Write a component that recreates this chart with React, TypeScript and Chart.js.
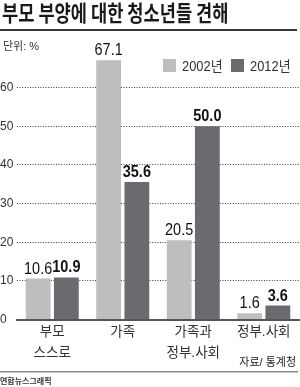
import React, { useEffect, useRef } from 'react';
import { Chart, registerables } from 'chart.js';

Chart.register(...registerables);

const titleText = '부모 부양에 대한 청소년들 견해';
const unitText = '단위: %';
const categories: string[][] = [['부모', '스스로'], ['가족'], ['가족과', '정부.사회'], ['정부.사회']];
const seriesLabels = ['2002년', '2012년'];
const values2002 = [10.6, 67.1, 20.5, 1.6];
const values2012 = [10.9, 35.6, 50.0, 3.6];
const yMin = 0;
const yMax = 70;
const yStep = 10;
const sourceText = '자료/ 통계청';
const creditText = '연합뉴스그래픽';

const seriesColors = ['#bdbec0', '#6b6a6f'];
const FONT = "'Liberation Sans', 'Noto Sans CJK KR', sans-serif";
const KFONT = "'Noto Sans CJK KR', sans-serif";

function drawText(
  ctx: CanvasRenderingContext2D,
  text: string,
  x: number,
  y: number,
  font: string,
  color: string,
  align: CanvasTextAlign,
  sx: number
) {
  ctx.save();
  ctx.font = font;
  ctx.fillStyle = color;
  ctx.textAlign = align;
  ctx.textBaseline = 'alphabetic';
  ctx.translate(x, y);
  ctx.scale(sx, 1);
  ctx.fillText(text, 0, 0);
  ctx.restore();
}

const overlayPlugin = {
  id: 'overlay',
  afterDraw(chart: any) {
    const ctx: CanvasRenderingContext2D = chart.ctx;
    // title
    drawText(ctx, titleText, 2, 21, 'bold 22px ' + KFONT, '#1a1a1a', 'left', 0.8);
    ctx.fillStyle = '#3a3a3a';
    ctx.fillRect(0, 29, 297, 2);
    drawText(ctx, unitText, 3, 49.5, '11px ' + FONT, '#333', 'left', 1);

    // legend
    const legendX = [163, 231];
    chart.data.datasets.forEach((ds: any, i: number) => {
      ctx.fillStyle = ds.backgroundColor;
      ctx.fillRect(legendX[i], 59, 13, 13);
      drawText(ctx, ds.label, legendX[i] + 19, 71, '14px ' + FONT, '#333', 'left', 0.92);
    });

    // value labels
    chart.data.datasets.forEach((ds: any, di: number) => {
      const meta = chart.getDatasetMeta(di);
      meta.data.forEach((bar: any, i: number) => {
        const v = ds.data[i] as number;
        drawText(
          ctx,
          v.toFixed(1),
          bar.x,
          bar.y - 5,
          (di === 1 ? 'bold ' : '') + '17px ' + FONT,
          '#111',
          'center',
          0.85
        );
      });
    });

    // source
    drawText(ctx, sourceText, 296, 366, '11px ' + FONT, '#222', 'right', 1);
    ctx.fillStyle = '#8a8a8a';
    ctx.fillRect(0, 371, 298, 1.5);
    drawText(ctx, creditText, 0, 384, 'bold 8px ' + FONT, '#333', 'left', 1);
  },
};

export default function App() {
  const canvasRef = useRef<HTMLCanvasElement | null>(null);

  useEffect(() => {
    document.body.style.margin = '0';
    const canvas = canvasRef.current;
    if (!canvas) return;
    const chart = new Chart(canvas, {
      type: 'bar',
      data: {
        labels: categories,
        datasets: [
          {
            label: seriesLabels[0],
            data: values2002,
            backgroundColor: seriesColors[0],
            barPercentage: 0.88,
            categoryPercentage: 0.8,
          },
          {
            label: seriesLabels[1],
            data: values2012,
            backgroundColor: seriesColors[1],
            barPercentage: 0.88,
            categoryPercentage: 0.8,
          },
        ],
      },
      options: {
        animation: false,
        responsive: false,
        devicePixelRatio: 1,
        layout: { padding: { top: 49, right: 1, bottom: 0, left: 0 } },
        plugins: {
          legend: { display: false },
          tooltip: { enabled: false },
          title: { display: false },
        },
        scales: {
          x: {
            grid: { display: false, drawTicks: false },
            border: { display: true, color: '#555', width: 2 },
            ticks: {
              color: '#333',
              font: { family: FONT, size: 13.5, lineHeight: 1.5 },
              padding: 3,
              maxRotation: 0,
              autoSkip: false,
            },
            afterFit(scale: any) {
              scale.height = 67.5;
            },
          },
          y: {
            min: yMin,
            max: yMax,
            ticks: {
              stepSize: yStep,
              color: '#333',
              font: { family: FONT, size: 12 },
              crossAlign: 'far',
              padding: 0,
              callback: (v: any) => (v === yMax ? '' : String(v)),
            },
            grid: {
              drawTicks: false,
              color: (c: any) =>
                c.tick && (c.tick.value === yMax || c.tick.value === yMin) ? 'rgba(0,0,0,0)' : '#3a3a3a',
              lineWidth: 1,
            },
            border: { display: false, dash: [1, 1.6] },
            afterFit(scale: any) {
              scale.width = 17;
            },
          },
        },
      },
      plugins: [overlayPlugin],
    } as any);
    return () => chart.destroy();
  }, []);

  return (
    <div style={{ width: 300, height: 387, position: 'relative', background: '#fff' }}>
      <canvas ref={canvasRef} width={300} height={387} style={{ display: 'block' }} />
    </div>
  );
}
